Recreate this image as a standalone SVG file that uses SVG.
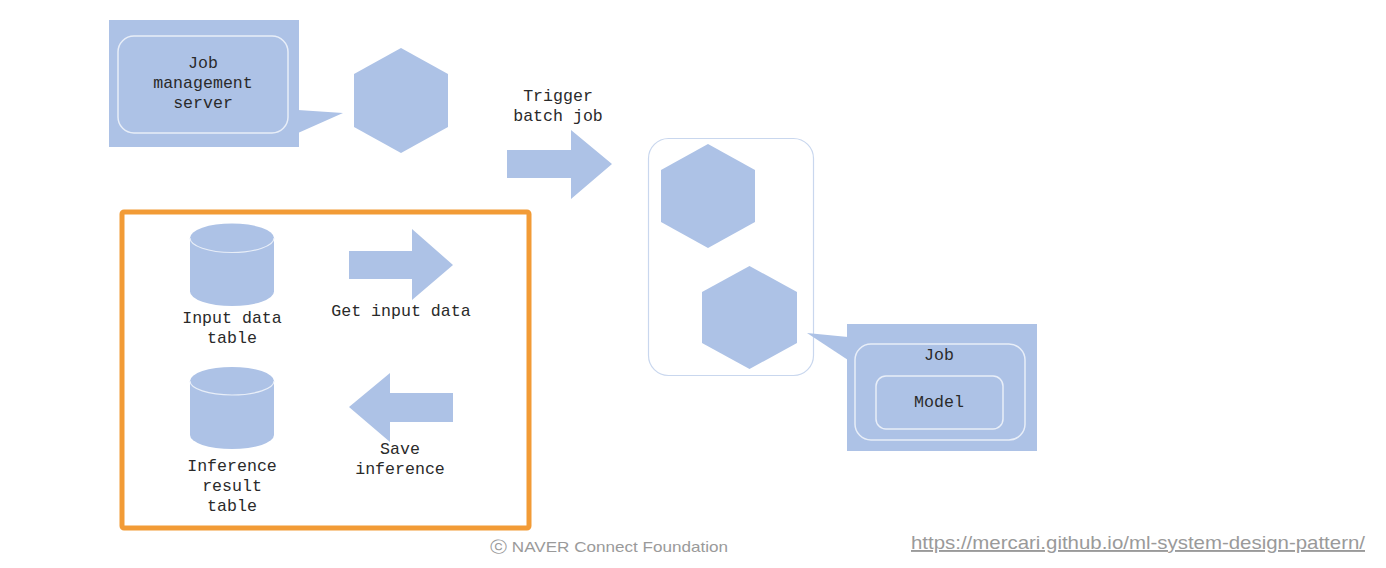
<svg xmlns="http://www.w3.org/2000/svg" width="1386" height="568" viewBox="0 0 1386 568">
<style>
.f{fill:#adc2e6}
.in{fill:none;stroke:#e8eef8;stroke-width:1.5}
.t{font-family:"Liberation Mono","Courier New",monospace;font-size:16.6px;fill:#2a2a2a;text-anchor:middle}
.foot{font-family:"Liberation Sans",Arial,sans-serif;fill:#9a9a9a}
</style>
<rect width="1386" height="568" fill="#fff"/>
<g id="job-management-server">
<rect class="f" x="109" y="20" width="190" height="127"/>
<polygon class="f" points="298,110 343,113 298,133"/>
<rect class="in" x="118" y="36" width="170" height="97" rx="16"/>
<text class="t" x="203" y="68">Job</text>
<text class="t" x="203" y="88">management</text>
<text class="t" x="203" y="108">server</text>
</g>
<g id="hex-server">
<polygon class="f" points="401,48 448,74 448,127 401,153 354,127 354,74"/>
</g>
<g id="batch-container">
<rect x="648.5" y="138.5" width="165" height="237" rx="20" fill="none" stroke="#c9d7ee" stroke-width="1.2"/>
<polygon class="f" points="708,144 755,170 755,222 708,248 661,222 661,170"/>
<polygon class="f" points="749.5,266 797,292 797,343 749.5,369 702,343 702,292"/>
</g>
<g id="job-model">
<rect class="f" x="847" y="324" width="190" height="127"/>
<polygon class="f" points="807,333 848,337 848,360"/>
<rect class="in" x="855" y="344" width="170" height="96" rx="16"/>
<rect class="in" x="876" y="376" width="127" height="53" rx="10"/>
<text class="t" x="939" y="360">Job</text>
<text class="t" x="939" y="407">Model</text>
</g>
<g id="datastore-frame">
<rect x="122" y="212" width="407" height="316" rx="2" fill="none" stroke="#f29b36" stroke-width="5"/>
</g>
<g id="input-data-table">
<path class="f" d="M190,238 A42,14.5 0 0 1 274,238 L274,291.5 A42,14.5 0 0 1 190,291.5 Z"/>
<path d="M190,238 A42,14.5 0 0 0 274,238" fill="none" stroke="#e8eef8" stroke-width="1.2"/>
<text class="t" x="232" y="323">Input data</text>
<text class="t" x="232" y="343">table</text>
</g>
<g id="inference-result-table">
<path class="f" d="M190,381 A42,14 0 0 1 274,381 L274,435 A42,14 0 0 1 190,435 Z"/>
<path d="M190,381 A42,14 0 0 0 274,381" fill="none" stroke="#e8eef8" stroke-width="1.2"/>
<text class="t" x="232" y="471">Inference</text>
<text class="t" x="232" y="491">result</text>
<text class="t" x="232" y="511">table</text>
</g>
<g id="connectors">
<polygon class="f" points="507,150 571,150 571,130 612,164 571,199 571,178 507,178"/>
<text class="t" x="558" y="101">Trigger</text>
<text class="t" x="558" y="121">batch job</text>
<polygon class="f" points="349,251 412,251 412,229 453,265 412,300 412,279 349,279"/>
<text class="t" x="401" y="316">Get input data</text>
<polygon class="f" points="453,393 390,393 390,373 349,407 390,442 390,422 453,422"/>
<text class="t" x="400" y="454">Save</text>
<text class="t" x="400" y="474">inference</text>
</g>
<g id="footer">
<text class="foot" x="490" y="552" font-size="15" textLength="238" lengthAdjust="spacingAndGlyphs">ⓒ  NAVER Connect Foundation</text>
<text class="foot" x="911" y="549" font-size="19" textLength="454" lengthAdjust="spacingAndGlyphs" text-decoration="underline">https://mercari.github.io/ml-system-design-pattern/</text>
</g>
</svg>
